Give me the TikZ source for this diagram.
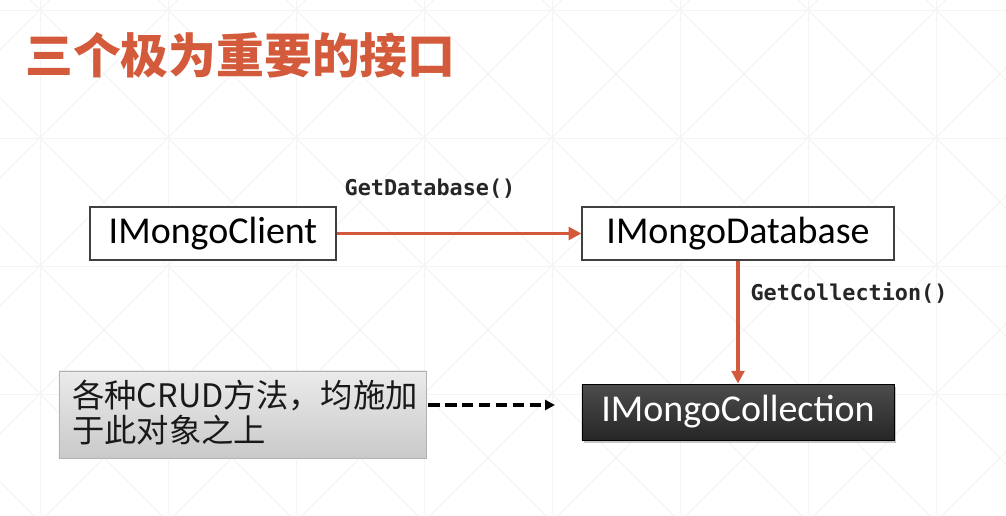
\documentclass[tikz,border=0pt]{standalone}
\usepackage{fontspec}
\setmainfont{Carlito}
\newfontfamily\cjk{Noto Sans CJK SC}
\newfontfamily\codefont{DejaVu Sans Mono}
\usetikzlibrary{arrows.meta,shadows}
\definecolor{titlered}{HTML}{D35A3B}
\definecolor{arrowred}{HTML}{D4583B}
\definecolor{gridgray}{HTML}{F4F4F4}
\begin{document}
\begin{tikzpicture}%
	[x=0.025cm, y=-0.025cm,
	iface/.style={draw=black!75, line width=0.8pt, fill=white, inner sep=0pt,
		minimum height=1.325cm, font=\fontsize{27}{30}\selectfont},
	darkiface/.style={draw=black, line width=0.6pt, top color=black!70, bottom color=black!85,
		inner sep=0pt, minimum height=1.4cm, text=white, font=\fontsize{27}{30}\selectfont,
		drop shadow={opacity=0.45, shadow xshift=1.2pt, shadow yshift=-1.8pt}},
	note/.style={draw=black!30, line width=0.6pt, top color=black!8, bottom color=black!21,
		inner sep=0pt, minimum width=9.175cm, minimum height=2.175cm},
	call/.style={arrowred, line width=2.2pt, -{Triangle[length=9pt, width=9pt]}},
	method/.style={font=\codefont\bfseries\fontsize{15.5}{18}\selectfont, text=black!85},
	gridline/.style={gridgray, line width=0.6pt}]
%
%% background lattice
\begin{scope}
\clip (0,0) rectangle (1006,515);
\foreach \gx in {-88,40,...,1064} {
	\draw[gridline] (\gx,0) -- (\gx,515);
	\foreach \gy in {-118,10,...,522} {
		\draw[gridline] (\gx,\gy) -- ++(128,128);
		\draw[gridline] (\gx,\gy) -- ++(128,-128);
	}
}
\foreach \gy in {10,138,...,522}
	\draw[gridline] (0,\gy) -- (1006,\gy);
\end{scope}
\useasboundingbox (0,0) rectangle (1006,515);
%
%% title
\node[anchor=west, inner sep=0pt, text=titlered,
	font=\cjk\bfseries\fontsize{34}{40}\selectfont] (title) at (25,55) {三个极为重要的接口};
%
%% the three interfaces
\node[iface, minimum width=6.15cm] (client) at (213,233.5) {IMongoClient};
\node[iface, minimum width=7.8cm] (database) at (738,233.5) {IMongoDatabase};
\node[darkiface, minimum width=7.8cm] (collection) at (738,412) {IMongoCollection};
%
%% note
\node[note] (crud) at (242.5,414.5) {};
\node[anchor=north west, inner sep=0pt, align=left,
	font=\cjk\fontsize{23}{25}\selectfont, text=black!90] (crudtext) at (72,380)
	{各种CRUD方法，均施加\\于此对象之上};
\coordinate (crudtip) at (555,405);
%
%% method calls
\draw[call] (client) -- (database);
\node[method] (getdb) at (430,189) {GetDatabase()};
\draw[call] (database) -- (collection);
\node[method] (getcoll) at (849,293) {GetCollection()};
\draw[line width=2.2pt, dash pattern=on 8pt off 4pt, -{Triangle[length=7pt, width=7pt]}]
	(crud.east |- crudtip) ++(2,0) -- (crudtip);
%
\end{tikzpicture}
\end{document}
